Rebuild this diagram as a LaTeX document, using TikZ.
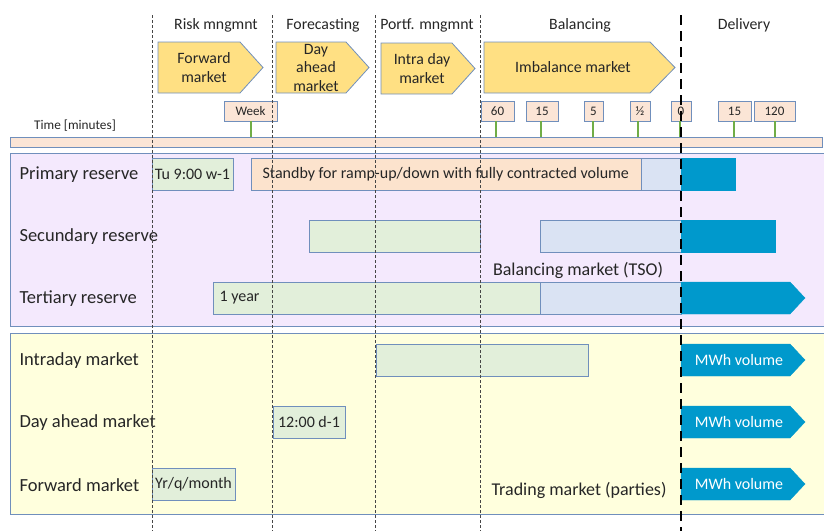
\documentclass[tikz,border=0pt]{standalone}
\usepackage{fontspec}
\setmainfont{Carlito}
\usetikzlibrary{fit}

\definecolor{edge}{RGB}{112,143,188}
\definecolor{peach}{RGB}{251,229,214}
\definecolor{standby}{RGB}{252,227,205}
\definecolor{lgreen}{RGB}{226,239,218}
\definecolor{lblue}{RGB}{218,227,243}
\definecolor{dblue}{RGB}{0,153,204}
\definecolor{gold}{RGB}{255,224,131}
\definecolor{lavender}{RGB}{244,233,253}
\definecolor{cream}{RGB}{255,255,221}
\definecolor{tickgreen}{RGB}{112,173,71}
\definecolor{guide}{RGB}{70,70,70}

\tikzset{
  fs/.style={font=\fontsize{#1}{18.5}\selectfont},
  header/.style={fs=15.8, text=black!85},
  rowlabel/.style={fs=18.5, anchor=west, text=black!85},
  panel/.style={draw=edge, line width=0.8pt},
  bar/.style={draw=edge, line width=0.7pt, inner sep=0pt},
  bartext/.style={fs=16, text=black!85},
  greenbar/.style={bar, fill=lgreen},
  bluebar/.style={bar, fill=lblue},
  deliv/.style={fill=dblue, draw=dblue, inner sep=0pt},
  phase/.style={fill=gold, draw=edge, line width=0.8pt},
  phasetext/.style={fs=15.8, align=center, text=black!85},
  tickbox/.style={draw=edge, fill=peach, line width=0.7pt, inner sep=0pt},
  tickline/.style={draw=tickgreen, line width=2.6pt},
  guideline/.style={draw=guide, line width=0.6pt, dash pattern=on 3pt off 2pt},
  cutoff/.style={draw=black, line width=2.4pt, dash pattern=on 10pt off 6pt},
  marker/.style={fs=18, text=black!85},
}

\begin{document}
\begin{tikzpicture}[x=1pt, y=-1pt]
\useasboundingbox (0,0) rectangle (824,531);

% background panels
\node[panel, fill=lavender, inner sep=0pt, fit={(10,153) (826,326)}] (tso) {};
\node[panel, fill=cream, inner sep=0pt, fit={(10,333) (826,514)}] (trading) {};

% time axis
\node[draw=edge, fill=peach, line width=0.7pt, inner sep=0pt, fit={(10,137) (822,147)}] (axis) {};
\node[fs=13.3, text=black!85] (timelbl) at (75,126) {Time [minutes]};

% phase headers
\node[header] (h1) at (216,25) {Risk mngmnt};
\node[header] (h2) at (323,25) {Forecasting};
\node[header] (h3) at (427,25) {Portf. mngmnt};
\node[header] (h4) at (580,25) {Balancing};
\node[header] (h5) at (744,25) {Delivery};

% phase arrows
\draw[phase] (158,42) -- (240,42) -- (263,67.5) -- (240,93) -- (158,93) -- cycle;
\node[phasetext] (p1) at (204,67.5) {Forward\\market};
\draw[phase] (276,42) -- (346,42) -- (369,67.5) -- (346,93) -- (276,93) -- cycle;
\node[phasetext] (p2) at (316,67.5) {Day\\ahead\\market};
\draw[phase] (381,43) -- (452,43) -- (475,68.5) -- (452,94) -- (381,94) -- cycle;
\node[phasetext] (p3) at (422,68.5) {Intra day\\market};
\draw[phase] (484,42) -- (650,42) -- (675,67.5) -- (650,93) -- (484,93) -- cycle;
\node[phasetext] (p4) at (573,67.5) {Imbalance market};

% time marks
\foreach \nm/\xa/\xb/\xt/\txt in {wk/224/277/251/Week, m60/481/514/496/60, m15/526/558/541/15,
    m5/584/603/593/5, mh/630/650/638/{\char"00BD}, m0/671/691/680/0, p15/718/751/734/15, p120/754/795/775/120}{
  \node[tickbox, fit={(\xa,101) (\xb,121)}, label={[fs=13, text=black!85]center:\txt}] (\nm) {};
  \draw[tickline] (\xt,121) -- (\xt,137);
}

% row labels
\node[rowlabel] (r1) at (16,175) {Primary reserve};
\node[rowlabel] (r2) at (16,237) {Secundary reserve};
\node[rowlabel] (r3) at (16,299) {Tertiary reserve};
\node[rowlabel] (r4) at (16,361) {Intraday market};
\node[rowlabel] (r5) at (16,423) {Day ahead market};
\node[rowlabel] (r6) at (16,485) {Forward market};

% primary reserve
\node[greenbar, fit={(152,158) (233,190)}] (pr1) {};
\node[bartext] (pr1t) at (pr1.center) {Tu 9:00 w-1};
\node[bar, fill=standby, fit={(251,158) (641,190)}] (pr2) {};
\node[bartext, anchor=west] (pr2t) at (259,174) {Standby for ramp-up/down with fully contracted volume};
\node[bluebar, fit={(641,158) (681,190)}] (pr3) {};
\node[deliv, fit={(681,158) (735,190)}] (pr4) {};

% secundary reserve
\node[greenbar, fit={(309,220) (480,252)}] (sr1) {};
\node[bluebar, fit={(540,220) (681,252)}] (sr2) {};
\node[deliv, fit={(681,220) (775,252)}] (sr3) {};

\node[marker] (tsolbl) at (578,270) {Balancing market (TSO)};

% tertiary reserve
\node[greenbar, fit={(213,282) (540,314)}] (tr1) {};
\node[bartext, anchor=west] (tr1t) at (216,298) {1 year};
\node[bluebar, fit={(540,282) (681,314)}] (tr2) {};
\draw[deliv] (681,282) -- (790,282) -- (805,298) -- (790,314) -- (681,314) -- cycle;

% trading markets
\node[greenbar, fit={(376,344) (588,376)}] (im1) {};
\node[greenbar, fit={(273,406) (345,438)}] (da1) {};
\node[bartext] (da1t) at (da1.center) {12:00 d-1};
\node[greenbar, fit={(152,468) (235,500)}] (fm1) {};
\node[bartext] (fm1t) at (fm1.center) {Yr/q/month};

\foreach \nm/\yc in {imv/360, dav/422, fmv/484}{
  \draw[deliv] (681,\yc-16) -- (790,\yc-16) -- (805,\yc) -- (790,\yc+16) -- (681,\yc+16) -- cycle;
  \node[fs=16, text=white] (\nm) at (739,\yc) {MWh volume};
}

\node[marker] (tradlbl) at (579,490) {Trading market (parties)};

% phase boundaries
\foreach \gx in {152,272,375,480}{
  \draw[guideline] (\gx,15) -- (\gx,531);
}
\draw[cutoff] (681,15) -- (681,531);
\end{tikzpicture}
\end{document}
